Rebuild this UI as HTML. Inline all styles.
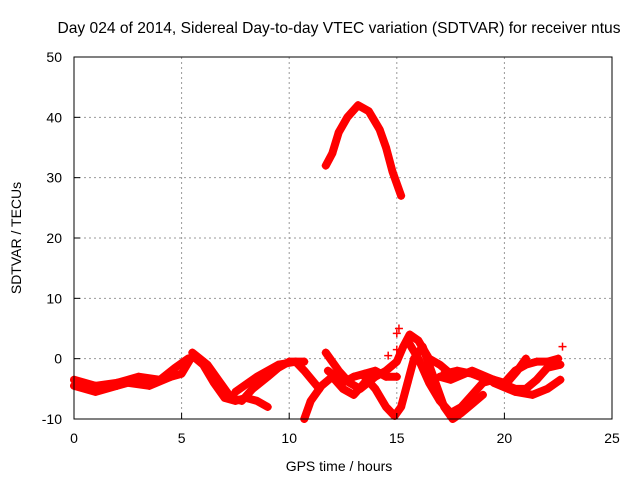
<!DOCTYPE html>
<html><head><meta charset="utf-8"><style>
html,body{margin:0;padding:0;background:#fff}
svg{display:block;font-family:"Liberation Sans",sans-serif}
</style></head><body>
<svg id="chart" width="640" height="480">
<text x="339" y="33" text-anchor="middle" font-size="15.6">Day 024 of 2014, Sidereal Day-to-day VTEC variation (SDTVAR) for receiver ntus</text>
<text x="339" y="471" text-anchor="middle" font-size="14">GPS time / hours</text>
<text transform="translate(21,238) rotate(-90)" text-anchor="middle" font-size="14">SDTVAR / TECUs</text>
<g id="grid"></g><g id="marks"></g><g id="axes"></g>
</svg>
<script>
const xTicks=[0,5,10,15,20,25];
const yTicks=[-10,0,10,20,30,40,50];
const trackArc=[[11.7,32],[12.0,34],[12.3,37.5],[12.7,40],[13.2,42],[13.7,41],[14.2,38],[14.5,35],[14.8,31],[15.2,27]];
const trackA=[[0,-3.5],[1,-4.5],[2,-4],[3,-3],[4,-3.5],[4.7,-1.5],[5.3,0]];
const trackB=[[0,-4.5],[1,-5.5],[2,-4.5],[2.5,-4],[3.5,-4.5],[4.5,-3],[5,-2.5],[5.5,0.5],[6,-1],[6.5,-4],[7,-6.5],[7.5,-7],[8,-6.5],[8.5,-7],[9,-8]];
const trackC=[[5.5,1],[6.2,-1],[6.8,-4],[7.3,-6.5],[7.8,-7],[8.3,-5],[9,-3],[9.5,-1.5],[10,-0.5],[10.7,-0.5]];
const trackD=[[7.5,-5.5],[8.5,-3],[9.5,-1],[10.3,-0.5],[10.7,-2],[11.4,-5]];
const trackE=[[10.7,-10],[11,-7],[11.5,-4.5],[12,-3],[12.5,-5],[13,-6],[13.5,-4],[14,-2.5]];
const trackF=[[11.7,1],[12.3,-2],[12.8,-4],[13.3,-5],[14,-3],[14.5,-2],[15,-0.5],[15.3,2],[15.6,4],[16,3],[16.5,0],[17,-1],[17.5,-2.5]];
const trackG=[[13.5,-3],[14,-5],[14.5,-8],[14.9,-9.5],[15.2,-8],[15.5,-4],[15.8,0],[16.2,2],[16.7,-3],[17.2,-8],[17.6,-10],[18,-9],[18.5,-7.5],[19,-6]];
const trackH=[[15.5,3],[16,0],[16.5,-4],[17,-7],[17.5,-9],[18,-8],[18.5,-6],[19,-4],[19.5,-3.5],[20,-4],[20.5,-2],[21,-1],[21.5,-0.5],[22,-0.5],[22.5,0]];
const trackI=[[17,-3],[17.5,-3.5],[18.5,-2],[19.5,-3.5],[20.5,-5],[21,-5],[21.5,-3.5],[22,-1.5],[22.6,-1]];
const trackJ=[[19.5,-4],[20.5,-5.5],[21.3,-6],[22,-5],[22.6,-3.5]];
const trackK=[[17.2,-2.5],[17.8,-2],[18.5,-2.5],[19.2,-3.5],[20,-4.5],[20.6,-2],[21,0]];
const trackL=[[11.8,-2],[12.5,-4],[13,-3],[13.5,-2.5],[14,-2],[14.5,-3],[15,-3]];
const isolated=[[22.7,2],[15.1,5],[15,4.2],[15,1.5],[14.6,0.5]];
const tracks=[trackArc,trackA,trackB,trackC,trackD,trackE,trackF,trackG,trackH,trackI,trackJ,trackK,trackL];

const L=74,R=612,T=57,B=419;
const xs=h=>L+(h-0)/25*(R-L);
const ys=v=>B-(v+10)/60*(B-T);
const NS="http://www.w3.org/2000/svg";
function mk(tag,attrs,parent){const e=document.createElementNS(NS,tag);for(const k in attrs)e.setAttribute(k,attrs[k]);parent.appendChild(e);return e;}
const grid=document.getElementById('grid'),marks=document.getElementById('marks'),axes=document.getElementById('axes');
xTicks.forEach(t=>{
  if(t>0&&t<25){const g=mk('line',{x1:xs(t),x2:xs(t),y1:T,y2:B,stroke:'#999','stroke-dasharray':'2,3'},grid);
  
  }
  const tk=mk('line',{x1:xs(t),x2:xs(t),y1:B,y2:B-6,stroke:'#000'},axes);
  
  
  const lb=mk('text',{x:xs(t),y:B+24,'text-anchor':'middle','font-size':'14'},axes);lb.textContent=t;
  
  
});
yTicks.forEach(t=>{
  if(t>-10&&t<50){const g=mk('line',{x1:L,x2:R,y1:ys(t),y2:ys(t),stroke:'#999','stroke-dasharray':'2,3'},grid);
  
  }
  const tk=mk('line',{x1:L,x2:L+6,y1:ys(t),y2:ys(t),stroke:'#000'},axes);
  
  
  const lb=mk('text',{x:L-12,y:ys(t)+5,'text-anchor':'end','font-size':'14'},axes);lb.textContent=t;
  
  
});
const fr=mk('rect',{x:L,y:T,width:R-L,height:B-T,fill:'none',stroke:'#000','stroke-width':1},axes);


function plus(h,v,parent){const x=xs(h),y=ys(v);
  const p=mk('path',{d:`M${x-4},${y}H${x+4}M${x},${y-4}V${y+4}`,stroke:'#f00','stroke-width':1.5},parent);
  
  }
tracks.forEach(tr=>{
  const g=mk('g',{},marks);
  
  
  const pl=mk('polyline',{points:tr.map(p=>xs(p[0])+','+ys(p[1])).join(' '),fill:'none',stroke:'#f00','stroke-width':8,'stroke-linejoin':'round','stroke-linecap':'round'},g);
  
  
  tr.forEach(p=>plus(p[0],p[1],g));
});
isolated.forEach(p=>plus(p[0],p[1],marks));
</script>
</body></html>
